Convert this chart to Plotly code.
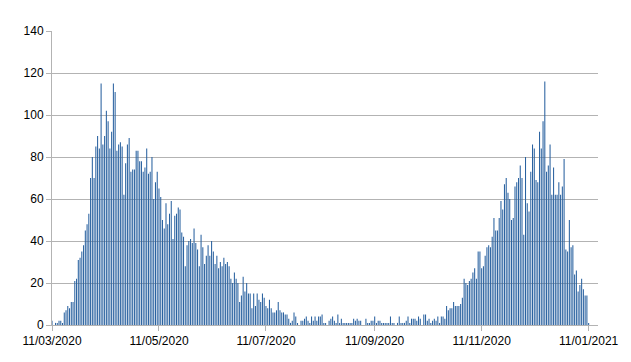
import pandas as pd
import plotly.graph_objects as go

start_date = "2020-03-11"

# daily values
seg1 = [2,0,1,1,2,2,1,6,7,9,8,11,11,21,22,31,32,35,38,45,48,53,70,80,70,85,90,84,115,86,90,102,97,84,92,115,111,83,86]
seg2 = [87,85,62,77,86,89,73,74,74,83,83,78,78,73,75,84,72,73,80,60,68,73,65,61,50,46,58]
seg3 = [48,53,59,41,52,53,56,55,44,42,28,38,40,41,39,46,39,36,28,43,37,29,33,38,33,40,35,29,33,27,30,28,32]
seg4 = [29,30,28,22,20,25,22,20,11,14,23,16,20,15,15,8,15,9,15,12,11,15,13,9,8,12,8,6,6,7,11,7,6,6]
seg5 = [5,5,3,1,2,6,4,1,0,2,2,3,4,2,1,4,2,4,2,4,4,5,1,1,0,2,3,4,2,1,5,1,3,1]
seg6 = [1,1,1,1,1,3,2,3,2,2,0,0,3,1,1,2,2,4,1,2,2,1,1,1,1,1,4,1,1,0,1,4]
seg7 = [1,1,1,2,4,1,3,3,3,2,4,3,0,5,5,2,3,1,2,3,2,4,1,4,4,3,9,7,8,8,11,9,9,9,10]
seg8 = [13,22,20,19,21,22,25,27,22,35,35,27,28,33,37,38,37,42,51,45,45,51,59,55,67,70,63,60,50,51,66]
seg9 = [68,70,76,70,43,80,58,54,73,86,84,69,68,92,84,97,116,73,76,86,62,75,62,62,68,62,66,79,36,35,50,37,38]
seg10 = [24,26,16,19,22,17,14,14,1]

values = seg1 + seg2 + seg3 + seg4 + seg5 + seg6 + seg7 + seg8 + seg9 + seg10
dates = pd.date_range(start_date, periods=len(values), freq="D")

tick_dates = ["2020-03-11", "2020-05-11", "2020-07-11", "2020-09-11", "2020-11-11", "2021-01-11"]
tick_labels = ["11/03/2020", "11/05/2020", "11/07/2020", "11/09/2020", "11/11/2020", "11/01/2021"]
y_ticks = [0, 20, 40, 60, 80, 100, 120, 140]

fig = go.Figure(go.Bar(
    x=dates, y=values,
    marker=dict(color="#2a62a0", line=dict(width=0)),
))

grid = "#b3b3b3"
font = dict(family="Liberation Sans, Arial, sans-serif", size=12, color="#000000")

fig.update_layout(
    width=631, height=362,
    margin=dict(l=52, r=31, t=31, b=37),
    paper_bgcolor="white", plot_bgcolor="white",
    bargap=0.4,
    showlegend=False,
    font=font,
    xaxis=dict(
        type="date",
        range=["2020-03-11", "2021-01-16T08:00"],
        tickvals=tick_dates, ticktext=tick_labels,
        ticks="outside", ticklen=5, tickcolor=grid,
        showgrid=False, showline=True, linecolor=grid, linewidth=1,
        zeroline=False, tickfont=font,
    ),
    yaxis=dict(
        range=[0, 140], tickvals=y_ticks,
        ticks="outside", ticklen=5, tickcolor=grid,
        showgrid=True, gridcolor=grid, gridwidth=1,
        showline=True, linecolor=grid, linewidth=1,
        zeroline=False, tickfont=font,
    ),
)

fig.write_html("out.html", config={"staticPlot": True})
